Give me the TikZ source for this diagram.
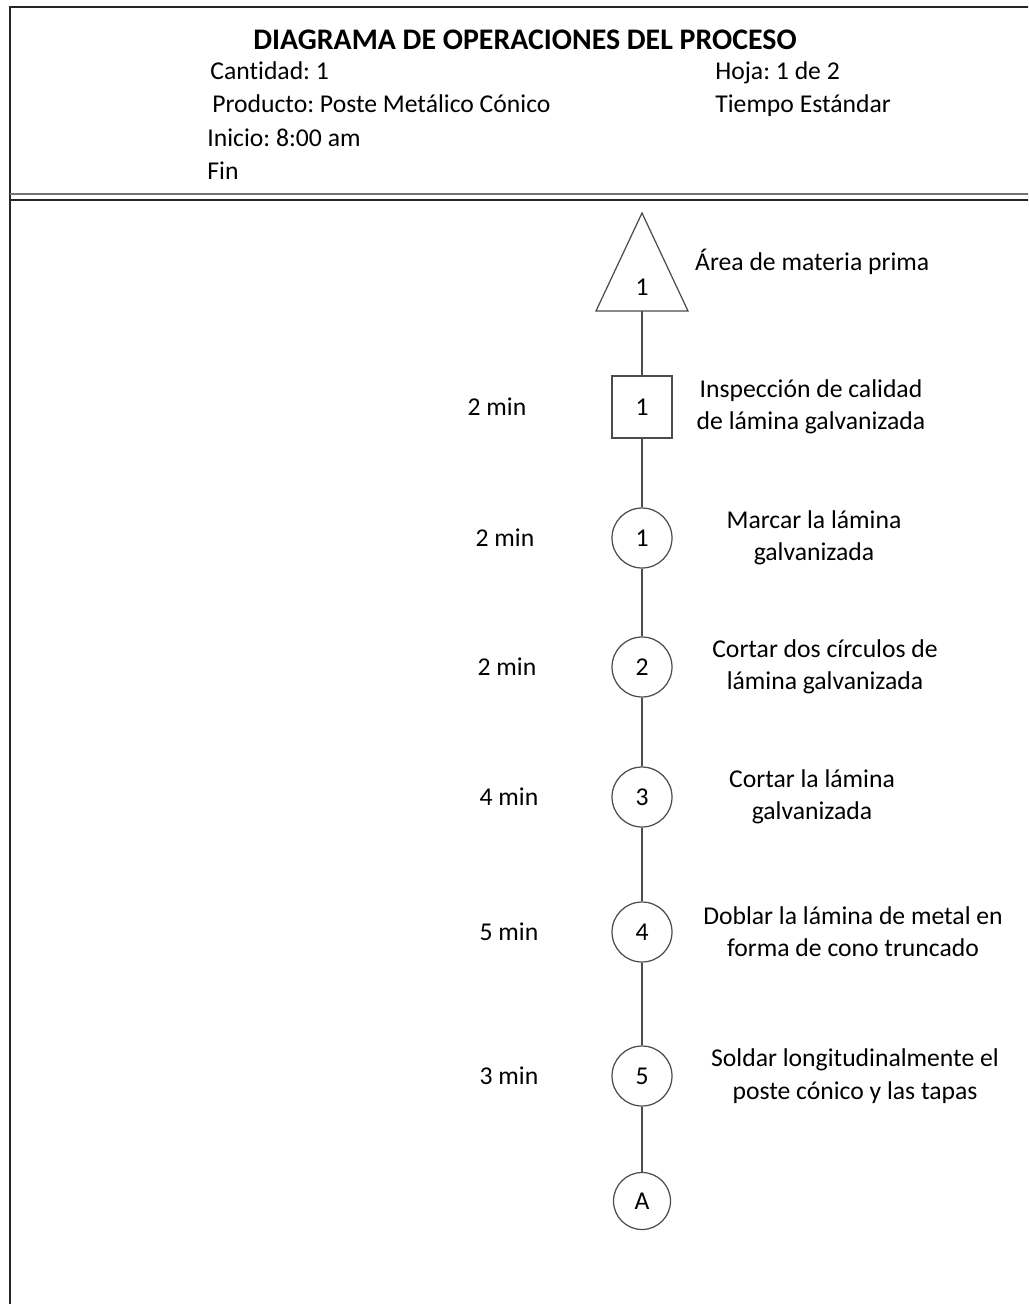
\documentclass[tikz,border=0pt]{standalone}
\usepackage{fontspec}
\setmainfont[Ligatures=NoCommon]{Carlito}
\usepackage{tikz}
\usetikzlibrary{positioning}
\frenchspacing

\begin{document}
\begin{tikzpicture}[
x=0.02cm,y=-0.02cm,
Frame/.style={draw=black!85,line width=1.1pt},
Link/.style={draw=black!70,line width=0.7pt},
OpCircle/.style={circle,draw=black!70,line width=0.7pt,fill=white,minimum size=1.2cm,inner sep=0pt},
InspBox/.style={rectangle,draw=black!70,line width=0.7pt,fill=white,minimum width=1.2cm,minimum height=1.24cm,inner sep=0pt},
Desc/.style={align=center},
Time/.style={},
Head/.style={anchor=west,inner sep=0pt,text height=0.7em,text depth=0.2em},
every node/.style={text=black,font=\fontsize{14.6}{18.4}\selectfont}
]
\useasboundingbox (0,0) rectangle (1028,1304);
\clip (0,0) rectangle (1028,1304);

% frame of the sheet
\draw[Frame] (1060,7)--(10,7)--(10,1340);
\draw[Frame,draw=black!55] (10,194)--(1060,194);
\draw[Frame] (10,200)--(1060,200);

% heading
\node[font=\bfseries\fontsize{17}{20}\selectfont] (title) at (525,40) {DIAGRAMA DE OPERACIONES DEL PROCESO};
\node[Head] (cant) at (210,75) {Cantidad: 1};
\node[Head] (prod) at (212,108) {Producto: Poste Metálico Cónico};
\node[Head] (ini) at (207,142) {Inicio: 8:00 am};
\node[Head] (fin) at (207,175) {Fin};
\node[Head] (hoja) at (715,75) {Hoja: 1 de 2};
\node[Head] (tstd) at (715,108) {Tiempo Estándar};

% storage triangle
\draw[Link,fill=white] (642,213)--(688,311)--(596,311)--cycle;
\coordinate (almb) at (642,311);
\node[Time] (alm) at (642,287) {1};
\node[Desc,anchor=west] (almt) at (689,262) {Área de materia prima};

% inspection
\node[InspBox] (ins1) at (642,407) {1};
\node[Desc] (ins1t) at (811,407) {Inspección de calidad\\de lámina galvanizada};
\node[Time] (ins1m) at (497,407) {2 min};

% operations
\node[OpCircle] (op1) at (642,538) {1};
\node[Desc] (op1t) at (814,538) {Marcar la lámina\\galvanizada};
\node[Time] (op1m) at (505,538) {2 min};

\node[OpCircle] (op2) at (642,667) {2};
\node[Desc] (op2t) at (825,667) {Cortar dos círculos de\\lámina galvanizada};
\node[Time] (op2m) at (507,667) {2 min};

\node[OpCircle] (op3) at (642,797) {3};
\node[Desc] (op3t) at (812,797) {Cortar la lámina\\galvanizada};
\node[Time] (op3m) at (509,797) {4 min};

\node[OpCircle] (op4) at (642,932) {4};
\node[Desc] (op4t) at (853,932) {Doblar la lámina de metal en\\forma de cono truncado};
\node[Time] (op4m) at (509,932) {5 min};

\node[OpCircle] (op5) at (642,1076) {5};
\node[Desc] (op5t) at (855,1076) {Soldar longitudinalmente el\\poste cónico y las tapas};
\node[Time] (op5m) at (509,1076) {3 min};

% connector to next sheet
\node[OpCircle,minimum size=1.14cm] (conA) at (642,1201) {A};

\draw[Link] (almb)--(ins1);
\draw[Link] (ins1)--(op1);
\draw[Link] (op1)--(op2);
\draw[Link] (op2)--(op3);
\draw[Link] (op3)--(op4);
\draw[Link] (op4)--(op5);
\draw[Link] (op5)--(conA);

\end{tikzpicture}
\end{document}
